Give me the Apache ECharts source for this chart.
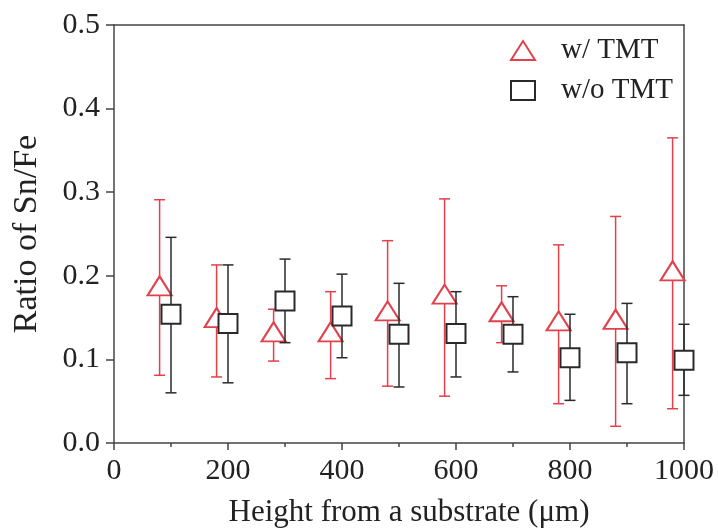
<!DOCTYPE html>
<html>
<head>
<meta charset="utf-8">
<script src="https://cdn.jsdelivr.net/npm/echarts@6/dist/echarts.min.js"></script>
<style>
html,body{margin:0;padding:0;background:#fff;}
#chart{width:718px;height:531px;}
</style>
</head>
<body>
<div id="chart"></div>
<script>
// ---- data ----
const seriesNames = ['w/ TMT', 'w/o TMT'];
const xWith = [80, 180, 280, 380, 480, 580, 680, 780, 880, 980];
const yWith = [0.188, 0.150, 0.133, 0.133, 0.158, 0.178, 0.157, 0.146, 0.148, 0.206];
const upWith = [0.291, 0.213, 0.160, 0.181, 0.242, 0.292, 0.188, 0.237, 0.271, 0.365];
const loWith = [0.081, 0.079, 0.098, 0.077, 0.068, 0.056, 0.120, 0.047, 0.020, 0.041];

const xWithout = [100, 200, 300, 400, 500, 600, 700, 800, 900, 1000];
const yWithout = [0.154, 0.143, 0.170, 0.152, 0.130, 0.131, 0.130, 0.102, 0.108, 0.099];
const upWithout = [0.246, 0.213, 0.220, 0.202, 0.191, 0.181, 0.175, 0.154, 0.167, 0.142];
const loWithout = [0.060, 0.072, 0.120, 0.102, 0.067, 0.079, 0.085, 0.051, 0.047, 0.057];

const xTicks = [0, 200, 400, 600, 800, 1000];
const yTicks = [0.0, 0.1, 0.2, 0.3, 0.4, 0.5];

// ---- styles ----
const RED = '#e2404a';
const BLK = '#2a2a2a';
const FONT = '"Liberation Serif", "DejaVu Serif", serif';
const TRI = 'path://M0,19L12,0L24,19Z';

function errData(xs, lo, hi) { return xs.map((x, i) => [x, lo[i], hi[i]]); }
function ptData(xs, ys) { return xs.map((x, i) => [x, ys[i]]); }

function errSeries(name, xs, lo, hi, color, z) {
  return {
    type: 'custom',
    name: name,
    z: z,
    clip: false,
    silent: true,
    itemStyle: { color: color },
    encode: { x: 0, y: [1, 2] },
    data: errData(xs, lo, hi),
    renderItem: function (params, api) {
      const x = api.value(0);
      const pLo = api.coord([x, api.value(1)]);
      const pHi = api.coord([x, api.value(2)]);
      const cw = 5.5;
      const st = { stroke: color, lineWidth: 1.5, fill: null };
      return {
        type: 'group',
        children: [
          { type: 'line', shape: { x1: pHi[0], y1: pHi[1], x2: pLo[0], y2: pLo[1] }, style: st },
          { type: 'line', shape: { x1: pHi[0] - cw, y1: pHi[1], x2: pHi[0] + cw, y2: pHi[1] }, style: st },
          { type: 'line', shape: { x1: pLo[0] - cw, y1: pLo[1], x2: pLo[0] + cw, y2: pLo[1] }, style: st }
        ]
      };
    }
  };
}

const chart = echarts.init(document.getElementById('chart'), null, { renderer: 'canvas' });

const option = {
  animation: false,
  backgroundColor: '#ffffff',
  grid: { left: 114, right: 34, top: 25, bottom: 88, containLabel: false, outerBoundsMode: 'none' },
  legend: {
    orient: 'vertical',
    left: 505,
    top: 31,
    itemWidth: 24,
    itemHeight: 19,
    itemGap: 11,
    data: [
      { name: seriesNames[0], icon: TRI },
      { name: seriesNames[1], icon: 'rect' }
    ],
    textStyle: { fontFamily: FONT, fontSize: 29, lineHeight: 20, color: '#222', padding: [0, 0, 0, 21] }
  },
  xAxis: [{
    type: 'value',
    min: 0, max: 1000, interval: 200,
    name: 'Height from a substrate (\u03bcm)',
    nameLocation: 'middle',
    nameGap: 54,
    nameTextStyle: { fontFamily: FONT, fontSize: 31, color: '#222', padding: [0, 0, 0, 20] },
    axisLine: { show: true, onZero: false, lineStyle: { color: '#444', width: 1.5 } },
    axisTick: { show: true, inside: false, length: 7, lineStyle: { color: '#444', width: 1.5 } },
    minorTick: { show: true, splitNumber: 2, length: 4, lineStyle: { color: '#444', width: 1.5 } },
    axisLabel: { fontFamily: FONT, fontSize: 30, color: '#222', margin: 13,
      formatter: function (v) { return xTicks.indexOf(v) >= 0 ? String(v) : ''; } },
    splitLine: { show: false }
  }, {
    type: 'value', position: 'top', min: 0, max: 1000,
    axisLine: { show: true, onZero: false, lineStyle: { color: '#444', width: 1.5 } },
    axisTick: { show: false }, axisLabel: { show: false }, splitLine: { show: false }
  }],
  yAxis: [{
    type: 'value',
    min: 0, max: 0.5, interval: 0.1,
    name: 'Ratio of Sn/Fe',
    nameLocation: 'middle',
    nameGap: 70,
    nameTextStyle: { fontFamily: FONT, fontSize: 34, color: '#222' },
    axisLine: { show: true, onZero: false, lineStyle: { color: '#444', width: 1.5 } },
    axisTick: { show: true, inside: false, length: 8, lineStyle: { color: '#444', width: 1.5 } },
    axisLabel: { fontFamily: FONT, fontSize: 30, color: '#222', margin: 14,
      formatter: function (v) {
        const t = yTicks.find(function (k) { return Math.abs(k - v) < 1e-9; });
        return t === undefined ? '' : t.toFixed(1);
      } },
    splitLine: { show: false }
  }, {
    type: 'value', position: 'right', min: 0, max: 0.5,
    axisLine: { show: true, onZero: false, lineStyle: { color: '#444', width: 1.5 } },
    axisTick: { show: false }, axisLabel: { show: false }, splitLine: { show: false }
  }],
  series: [
    errSeries(seriesNames[0] + ' error', xWith, loWith, upWith, RED, 1),
    {
      type: 'scatter',
      name: seriesNames[0],
      z: 2,
      symbol: TRI,
      symbolKeepAspect: false,
      symbolSize: [24, 19],
      data: ptData(xWith, yWith),
      itemStyle: { color: '#ffffff', borderColor: RED, borderWidth: 2, opacity: 1 }
    },
    errSeries(seriesNames[1] + ' error', xWithout, loWithout, upWithout, BLK, 3),
    {
      type: 'scatter',
      name: seriesNames[1],
      z: 4,
      symbol: 'rect',
      symbolSize: [19, 19],
      data: ptData(xWithout, yWithout),
      itemStyle: { color: '#ffffff', borderColor: BLK, borderWidth: 2, opacity: 1 }
    }
  ]
};

chart.setOption(option);
</script>
</body>
</html>
